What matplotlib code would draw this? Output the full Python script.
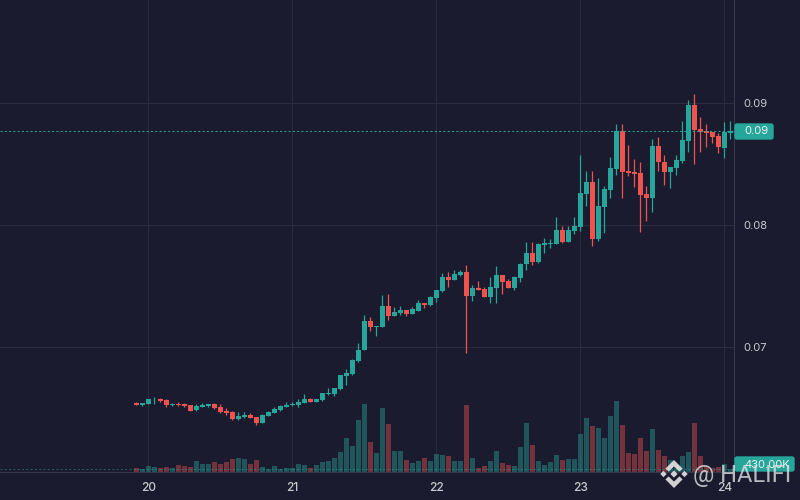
import matplotlib
matplotlib.use("Agg")
from matplotlib import pyplot as plt
from matplotlib.patches import Polygon, FancyBboxPatch
import numpy as np

# hourly candles, hours counted from the start of day 20
hours = list(range(-2, 98))

opens = [0.06541, 0.06525, 0.06533, 0.06571, 0.06577, 0.06566, 0.06525, 0.06536, 0.06533, 0.06525,
         0.06484, 0.06508, 0.06519, 0.06533, 0.06508, 0.06475, 0.06467, 0.06410, 0.06426, 0.06443,
         0.06426, 0.06377, 0.06435, 0.06459, 0.06484, 0.06508, 0.06525, 0.06525, 0.06541, 0.06574,
         0.06549, 0.06566, 0.06615, 0.06615, 0.06656, 0.06762, 0.06780, 0.06885, 0.06975, 0.07213,
         0.07164, 0.07164, 0.07336, 0.07254, 0.07279, 0.07303, 0.07271, 0.07295, 0.07361, 0.07344,
         0.07402, 0.07459, 0.07574, 0.07549, 0.07590, 0.07615, 0.07418, 0.07484, 0.07475, 0.07410,
         0.07484, 0.07590, 0.07541, 0.07484, 0.07566, 0.07680, 0.07770, 0.07697, 0.07836, 0.07844,
         0.07844, 0.07959, 0.07861, 0.07951, 0.07984, 0.08254, 0.08352, 0.07885, 0.08148, 0.08287,
         0.08459, 0.08770, 0.08443, 0.08434, 0.08426, 0.08254, 0.08221, 0.08648, 0.08516, 0.08434,
         0.08467, 0.08525, 0.08689, 0.08984, 0.08787, 0.08770, 0.08762, 0.08730, 0.08631, 0.08754]
highs = [0.06549, 0.06541, 0.06574, 0.06590, 0.06585, 0.06574, 0.06544, 0.06549, 0.06541, 0.06525,
         0.06533, 0.06541, 0.06533, 0.06541, 0.06533, 0.06500, 0.06475, 0.06467, 0.06467, 0.06459,
         0.06426, 0.06451, 0.06475, 0.06508, 0.06525, 0.06549, 0.06549, 0.06574, 0.06615, 0.06585,
         0.06574, 0.06623, 0.06664, 0.06664, 0.06770, 0.06820, 0.06902, 0.07033, 0.07262, 0.07246,
         0.07172, 0.07426, 0.07434, 0.07328, 0.07336, 0.07303, 0.07328, 0.07385, 0.07361, 0.07418,
         0.07467, 0.07607, 0.07615, 0.07631, 0.07631, 0.07672, 0.07508, 0.07541, 0.07492, 0.07574,
         0.07664, 0.07590, 0.07557, 0.07582, 0.07689, 0.07861, 0.07861, 0.07852, 0.07893, 0.07885,
         0.08066, 0.07992, 0.07992, 0.08066, 0.08574, 0.08443, 0.08443, 0.08385, 0.08320, 0.08557,
         0.08828, 0.08828, 0.08656, 0.08541, 0.08516, 0.08320, 0.08705, 0.08721, 0.08574, 0.08475,
         0.08574, 0.08852, 0.09025, 0.09074, 0.08885, 0.08828, 0.08762, 0.08754, 0.08844, 0.08852]
lows = [0.06525, 0.06516, 0.06533, 0.06533, 0.06549, 0.06508, 0.06516, 0.06516, 0.06508, 0.06475,
        0.06475, 0.06508, 0.06508, 0.06492, 0.06459, 0.06443, 0.06402, 0.06402, 0.06418, 0.06418,
        0.06361, 0.06377, 0.06435, 0.06459, 0.06475, 0.06508, 0.06516, 0.06508, 0.06541, 0.06549,
        0.06549, 0.06557, 0.06607, 0.06598, 0.06648, 0.06689, 0.06770, 0.06877, 0.06975, 0.07131,
        0.07090, 0.07164, 0.07221, 0.07254, 0.07262, 0.07254, 0.07271, 0.07295, 0.07320, 0.07336,
        0.07369, 0.07451, 0.07492, 0.07549, 0.07582, 0.06951, 0.07377, 0.07467, 0.07410, 0.07361,
        0.07361, 0.07434, 0.07484, 0.07467, 0.07533, 0.07631, 0.07672, 0.07689, 0.07770, 0.07811,
        0.07844, 0.07852, 0.07861, 0.07926, 0.07951, 0.08156, 0.07828, 0.07869, 0.07935, 0.08221,
        0.08410, 0.08221, 0.08402, 0.08311, 0.07943, 0.08033, 0.08107, 0.08443, 0.08328, 0.08303,
        0.08410, 0.08508, 0.08598, 0.08500, 0.08598, 0.08640, 0.08672, 0.08590, 0.08549, 0.08705]
closes = [0.06525, 0.06541, 0.06574, 0.06577, 0.06557, 0.06525, 0.06533, 0.06527, 0.06519, 0.06475,
          0.06516, 0.06525, 0.06533, 0.06500, 0.06467, 0.06459, 0.06410, 0.06435, 0.06443, 0.06418,
          0.06377, 0.06443, 0.06467, 0.06492, 0.06516, 0.06525, 0.06533, 0.06549, 0.06574, 0.06549,
          0.06574, 0.06623, 0.06623, 0.06664, 0.06770, 0.06787, 0.06893, 0.06975, 0.07213, 0.07164,
          0.07172, 0.07336, 0.07254, 0.07287, 0.07303, 0.07271, 0.07312, 0.07361, 0.07344, 0.07410,
          0.07467, 0.07574, 0.07549, 0.07598, 0.07615, 0.07418, 0.07484, 0.07467, 0.07410, 0.07492,
          0.07590, 0.07533, 0.07484, 0.07574, 0.07680, 0.07770, 0.07697, 0.07844, 0.07852, 0.07852,
          0.07959, 0.07861, 0.07959, 0.07992, 0.08262, 0.08352, 0.07885, 0.08156, 0.08295, 0.08467,
          0.08770, 0.08434, 0.08426, 0.08418, 0.08246, 0.08221, 0.08648, 0.08516, 0.08434, 0.08475,
          0.08533, 0.08697, 0.08984, 0.08779, 0.08762, 0.08754, 0.08721, 0.08640, 0.08762, 0.08770]

volumes_k = [520, 390, 780, 650, 520, 650, 520, 910, 780, 650,
             1430, 1040, 1040, 1300, 1040, 1300, 1690, 1820, 1690, 1040,
             1560, 650, 390, 780, 390, 520, 520, 1040, 910, 520,
             910, 1300, 1430, 1820, 2600, 4420, 3380, 6760, 8840, 3900,
             2470, 8320, 6240, 2730, 2730, 1560, 1170, 1430, 1820, 1430,
             2340, 2210, 2080, 1430, 1430, 8710, 1820, 520, 780, 1430,
             2730, 1170, 910, 780, 3250, 6370, 3510, 1430, 910, 1300,
             2210, 1560, 1690, 1690, 4940, 7020, 5980, 5720, 4420, 7280,
             9230, 6110, 2470, 2340, 4420, 2730, 5590, 2860, 2080, 1560,
             910, 2080, 2600, 6370, 2080, 650, 520, 650, 1040, 430]

day_ticks = [0, 24, 48, 72, 96]
day_labels = ['20', '21', '22', '23', '24']
price_ticks = [0.07, 0.08, 0.09]
price_labels = ['0.07', '0.08', '0.09']
last_price = 0.0877
last_volume = 430

BG = '#1a1b2e'
GRID = '#2b2c3e'
AXIS = '#36374a'
UP = '#26a69a'
DOWN = '#ef5350'
TEXT = '#c9cad1'

plt.rcParams['font.family'] = ['Inter', 'DejaVu Sans']

fig = plt.figure(figsize=(8, 5), dpi=100, facecolor=BG)
rect = [0, 28 / 500, 734 / 800, 472 / 500]
xlim = (-148.45 / 6, (734 - 148.45) / 6)

# volume sits underneath, with its own scale
ax_vol = fig.add_axes(rect, zorder=1)
ax_vol.set_facecolor(BG)
ax_vol.set_xlim(xlim)
ax_vol.set_ylim(0, 130 * 472)
ax_vol.set_xticks(day_ticks)
ax_vol.set_xticklabels(day_labels, fontsize=8.6, fontweight='medium', color=TEXT)
ax_vol.yaxis.tick_right()
ax_vol.set_yticks([])
ax_vol.tick_params(axis='x', length=0, pad=7)
ax_vol.grid(True, axis='x', color=GRID, linewidth=0.8)
ax_vol.set_axisbelow(True)
for side in ['top', 'left']:
    ax_vol.spines[side].set_visible(False)
for side in ['bottom', 'right']:
    ax_vol.spines[side].set_color(AXIS)
    ax_vol.spines[side].set_linewidth(0.8)

x = np.array(hours)
o = np.array(opens)
c = np.array(closes)
colors = [UP if b >= a else DOWN for a, b in zip(opens, closes)]

ax_vol.bar(x, volumes_k, width=5 / 6, color=colors, alpha=0.42, linewidth=0)
ax_vol.axhline(last_volume, color=UP, linewidth=0.72, linestyle=(0, (2, 2.3)), alpha=0.5)

# candles on the price scale
ax = fig.add_axes(rect, zorder=2, facecolor='none')
ax.set_xlim(xlim)
ax.set_ylim(0.07 - 125 / 12200, 0.07 + 347 / 12200)
ax.set_xticks([])
ax.yaxis.tick_right()
ax.set_yticks(price_ticks)
ax.set_yticklabels(price_labels, fontsize=8, color=TEXT)
ax.tick_params(axis='y', length=0, pad=7)
ax.grid(True, axis='y', color=GRID, linewidth=0.8)
ax.set_axisbelow(True)
for spine in ax.spines.values():
    spine.set_visible(False)

ax.vlines(x, lows, highs, colors=colors, linewidth=0.9, zorder=3)
ax.bar(x, np.maximum(np.abs(c - o), 0.00003), bottom=np.minimum(o, c), width=5 / 6,
       color=colors, linewidth=0, zorder=4)
ax.axhline(last_price, color=UP, linewidth=0.72, linestyle=(0, (2, 2.3)), zorder=5)

# overlay in pixel coordinates for the axis badges and the watermark
over = fig.add_axes([0, 0, 1, 1], zorder=3, facecolor='none')
over.set_xlim(0, 800)
over.set_ylim(500, 0)
over.axis('off')

over.add_patch(FancyBboxPatch((735, 124), 38, 15, boxstyle='round,pad=0,rounding_size=2',
                              facecolor=UP, edgecolor=UP, linewidth=1))
over.text(744, 131.5, '0.09', color='#eef2f2', fontsize=8, va='center', ha='left')
over.add_patch(FancyBboxPatch((735, 457), 59, 14, boxstyle='round,pad=0,rounding_size=2',
                              facecolor=UP, edgecolor=UP, linewidth=1))
over.text(744, 464.5, '430.00K', color='#eef2f2', fontsize=8, va='center', ha='left')

# binance style mark
lx, ly = 674, 474
shapes = [
    [(0, -3.6), (3.6, 0), (0, 3.6), (-3.6, 0)],
    [(-10.5, -3.2), (-7.3, 0), (-10.5, 3.2), (-13.7, 0)],
    [(10.5, -3.2), (13.7, 0), (10.5, 3.2), (7.3, 0)],
    [(0, -14), (8.6, -5.4), (5.4, -2.4), (0, -7.6), (-5.4, -2.4), (-8.6, -5.4)],
    [(0, 14), (8.6, 5.4), (5.4, 2.4), (0, 7.6), (-5.4, 2.4), (-8.6, 5.4)],
]
for pts in shapes:
    over.add_patch(Polygon([(lx + px, ly + py) for px, py in pts], closed=True,
                           facecolor='#e6e6e6', edgecolor='none', alpha=0.9))
over.text(693, 482, '@ HALIFI', color='#e0e0e3', fontsize=17, family=['Roboto', 'DejaVu Sans'],
          va='baseline', ha='left', alpha=0.8)

fig.savefig('out.png', dpi=100, facecolor=BG)
